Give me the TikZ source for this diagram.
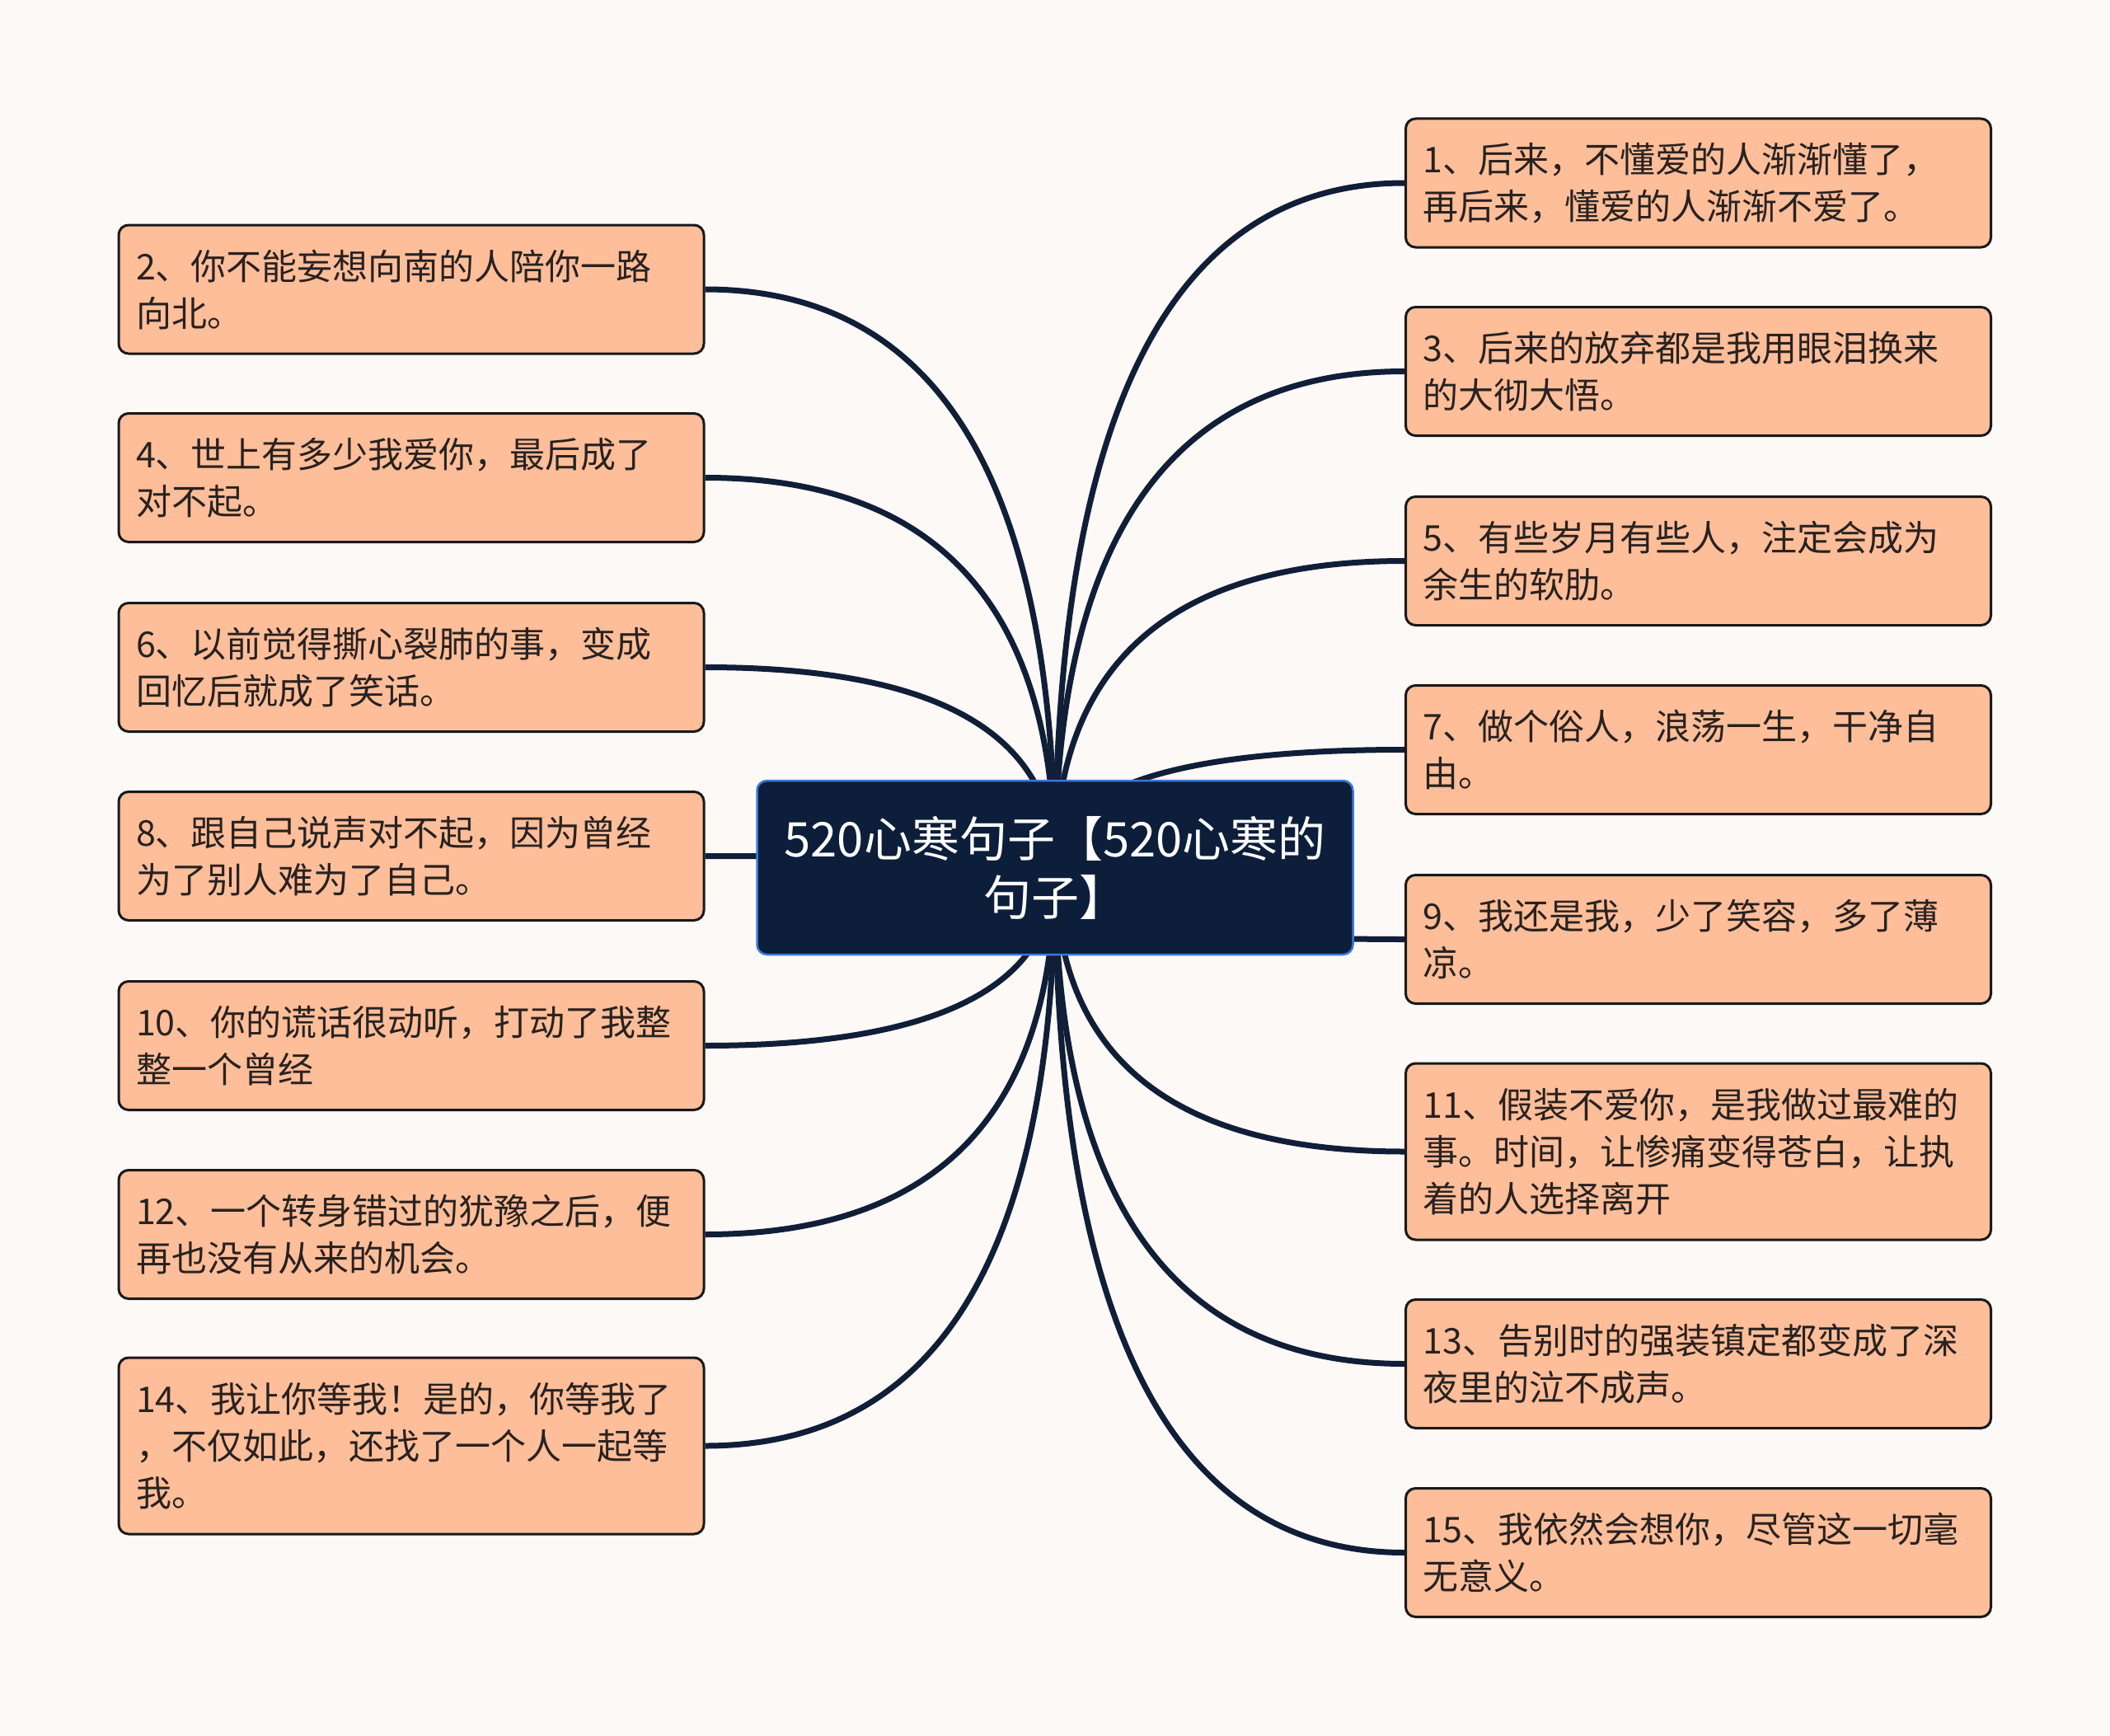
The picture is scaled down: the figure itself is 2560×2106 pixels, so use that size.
\documentclass[tikz,border=0pt]{standalone}
\usepackage{fontspec}
\setmainfont{Noto Sans CJK SC}
\usetikzlibrary{calc}
\definecolor{bgc}{RGB}{252,249,247}
\definecolor{peach}{RGB}{255,190,154}
\definecolor{navy}{RGB}{13,30,58}
\definecolor{linec}{RGB}{16,30,56}
\definecolor{blueb}{RGB}{58,122,214}
\definecolor{txt}{RGB}{40,34,32}
\definecolor{leafborder}{RGB}{25,25,25}
\pgfdeclarelayer{edges}
\pgfsetlayers{edges,main}
\newcommand\linkto[1]{\draw[link] (#1) .. controls ($(#1)!0.6667!(c.center |- #1)$) and ($(c.center)!0.6667!(c.center |- #1)$) .. (c.center);}
\tikzset{
  leaf/.style={draw=leafborder, line width=3pt, fill=peach, rounded corners=12pt,
    minimum width=710pt, minimum height=156pt, inner xsep=21pt, inner ysep=0pt,
    text width=668pt, align=left, font=\fontsize{43pt}{57pt}\selectfont, text=txt},
  tall/.style={minimum height=214pt},
  link/.style={draw=linec, line width=7pt},
  root/.style={draw=blueb, line width=2.5pt, fill=navy, rounded corners=12pt,
    minimum width=723pt, minimum height=211pt, inner sep=0pt, align=center,
    text=white, font=\fontsize{58pt}{71pt}\selectfont}
}
\begin{document}
\begin{tikzpicture}[x=1pt,y=-1pt]
\begin{pgfonlayer}{edges}
\fill[bgc] (0,0) rectangle (2560,2106);
\end{pgfonlayer}
\useasboundingbox (0,0) rectangle (2560,2106);

\node[root] (c) at (1280,1052.5) {520心寒句子【520心寒的\\句子】};

\node[leaf] (b2) at (499,351) {2、你不能妄想向南的人陪你一路\\向北。};
\node[leaf] (b4) at (499,579.5) {4、世上有多少我爱你，最后成了\\对不起。};
\node[leaf] (b6) at (499,809.5) {6、以前觉得撕心裂肺的事，变成\\回忆后就成了笑话。};
\node[leaf] (b8) at (499,1038.5) {8、跟自己说声对不起，因为曾经\\为了别人难为了自己。};
\node[leaf] (b10) at (499,1268.5) {10、你的谎话很动听，打动了我整\\整一个曾经};
\node[leaf] (b12) at (499,1497.5) {12、一个转身错过的犹豫之后，便\\再也没有从来的机会。};
\node[leaf,tall] (b14) at (499,1754) {14、我让你等我！是的，你等我了\\，不仅如此，还找了一个人一起等\\我。};

\node[leaf] (b1) at (2060.5,222) {1、后来，不懂爱的人渐渐懂了，\\再后来，懂爱的人渐渐不爱了。};
\node[leaf] (b3) at (2060.5,450.5) {3、后来的放弃都是我用眼泪换来\\的大彻大悟。};
\node[leaf] (b5) at (2060.5,680.5) {5、有些岁月有些人，注定会成为\\余生的软肋。};
\node[leaf] (b7) at (2060.5,909.5) {7、做个俗人，浪荡一生，干净自\\由。};
\node[leaf] (b9) at (2060.5,1139.5) {9、我还是我，少了笑容，多了薄\\凉。};
\node[leaf,tall] (b11) at (2060.5,1397) {11、假装不爱你，是我做过最难的\\事。时间，让惨痛变得苍白，让执\\着的人选择离开};
\node[leaf] (b13) at (2060.5,1654.5) {13、告别时的强装镇定都变成了深\\夜里的泣不成声。};
\node[leaf] (b15) at (2060.5,1883.5) {15、我依然会想你，尽管这一切毫\\无意义。};

\begin{pgfonlayer}{edges}
\linkto{b2.east}
\linkto{b4.east}
\linkto{b6.east}
\linkto{b8.east}
\linkto{b10.east}
\linkto{b12.east}
\linkto{b14.east}
\linkto{b1.west}
\linkto{b3.west}
\linkto{b5.west}
\linkto{b7.west}
\linkto{b9.west}
\linkto{b11.west}
\linkto{b13.west}
\linkto{b15.west}
\end{pgfonlayer}
\end{tikzpicture}
\end{document}
